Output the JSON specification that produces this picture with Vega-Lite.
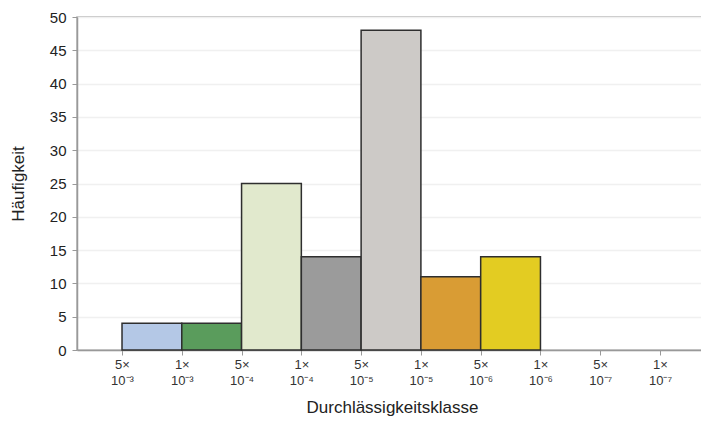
{
  "$schema": "https://vega.github.io/schema/vega-lite/v6.json",
  "autosize": "none",
  "width": 630,
  "height": 333,
  "padding": {"left": 77, "top": 17, "right": 0, "bottom": 73},
  "background": "white",
  "config": {
    "font": "Liberation Sans",
    "view": {"stroke": "#b0b0b0", "strokeWidth": 1.5}
  },
  "data": {
    "values": [
      {"von": 0, "bis": 1, "klasse": "5×10⁻³ – 1×10⁻³", "haeufigkeit": 4, "farbe": "#b4c8e6"},
      {"von": 1, "bis": 2, "klasse": "1×10⁻³ – 5×10⁻⁴", "haeufigkeit": 4, "farbe": "#5a9c5c"},
      {"von": 2, "bis": 3, "klasse": "5×10⁻⁴ – 1×10⁻⁴", "haeufigkeit": 25, "farbe": "#e1e9cd"},
      {"von": 3, "bis": 4, "klasse": "1×10⁻⁴ – 5×10⁻⁵", "haeufigkeit": 14, "farbe": "#9b9b9b"},
      {"von": 4, "bis": 5, "klasse": "5×10⁻⁵ – 1×10⁻⁵", "haeufigkeit": 48, "farbe": "#cdcac7"},
      {"von": 5, "bis": 6, "klasse": "1×10⁻⁵ – 5×10⁻⁶", "haeufigkeit": 11, "farbe": "#d99c34"},
      {"von": 6, "bis": 7, "klasse": "5×10⁻⁶ – 1×10⁻⁶", "haeufigkeit": 14, "farbe": "#e3cc22"}
    ]
  },
  "mark": {"type": "bar", "stroke": "#2e2e2e", "strokeWidth": 1.5},
  "encoding": {
    "x": {
      "field": "von",
      "type": "quantitative",
      "scale": {"domain": [-0.753, 9.786], "nice": false, "zero": false},
      "axis": {
        "title": "Durchlässigkeitsklasse",
        "titleFontSize": 17,
        "titleFontWeight": "normal",
        "titleColor": "#222",
        "titlePadding": 12,
        "values": [0, 1, 2, 3, 4, 5, 6, 7, 8, 9],
        "labelExpr": "[['5×','10⁻³'],['1×','10⁻³'],['5×','10⁻⁴'],['1×','10⁻⁴'],['5×','10⁻⁵'],['1×','10⁻⁵'],['5×','10⁻⁶'],['1×','10⁻⁶'],['5×','10⁻⁷'],['1×','10⁻⁷']][datum.value]",
        "labelFontSize": 13,
        "labelColor": "#333",
        "labelLineHeight": 16,
        "labelPadding": 3,
        "tickColor": "#999",
        "tickSize": 5,
        "domainColor": "#999",
        "domainWidth": 1.5,
        "grid": false
      }
    },
    "x2": {"field": "bis"},
    "y": {
      "field": "haeufigkeit",
      "type": "quantitative",
      "scale": {"domain": [0, 50], "nice": false},
      "axis": {
        "title": "Häufigkeit",
        "titleFontSize": 17,
        "titleFontWeight": "normal",
        "titleColor": "#222",
        "titlePadding": 22,
        "values": [0, 5, 10, 15, 20, 25, 30, 35, 40, 45, 50],
        "labelFontSize": 15,
        "labelColor": "#222",
        "labelPadding": 6,
        "tickColor": "#999",
        "tickSize": 5,
        "domainColor": "#999",
        "domainWidth": 1.5,
        "grid": true,
        "gridColor": "#f0f0f0",
        "gridWidth": 1.5
      }
    },
    "y2": {"datum": 0},
    "fill": {"field": "farbe", "type": "nominal", "scale": null, "legend": null},
    "tooltip": [
      {"field": "klasse", "type": "nominal", "title": "Klasse"},
      {"field": "haeufigkeit", "type": "quantitative", "title": "Häufigkeit"}
    ]
  }
}
